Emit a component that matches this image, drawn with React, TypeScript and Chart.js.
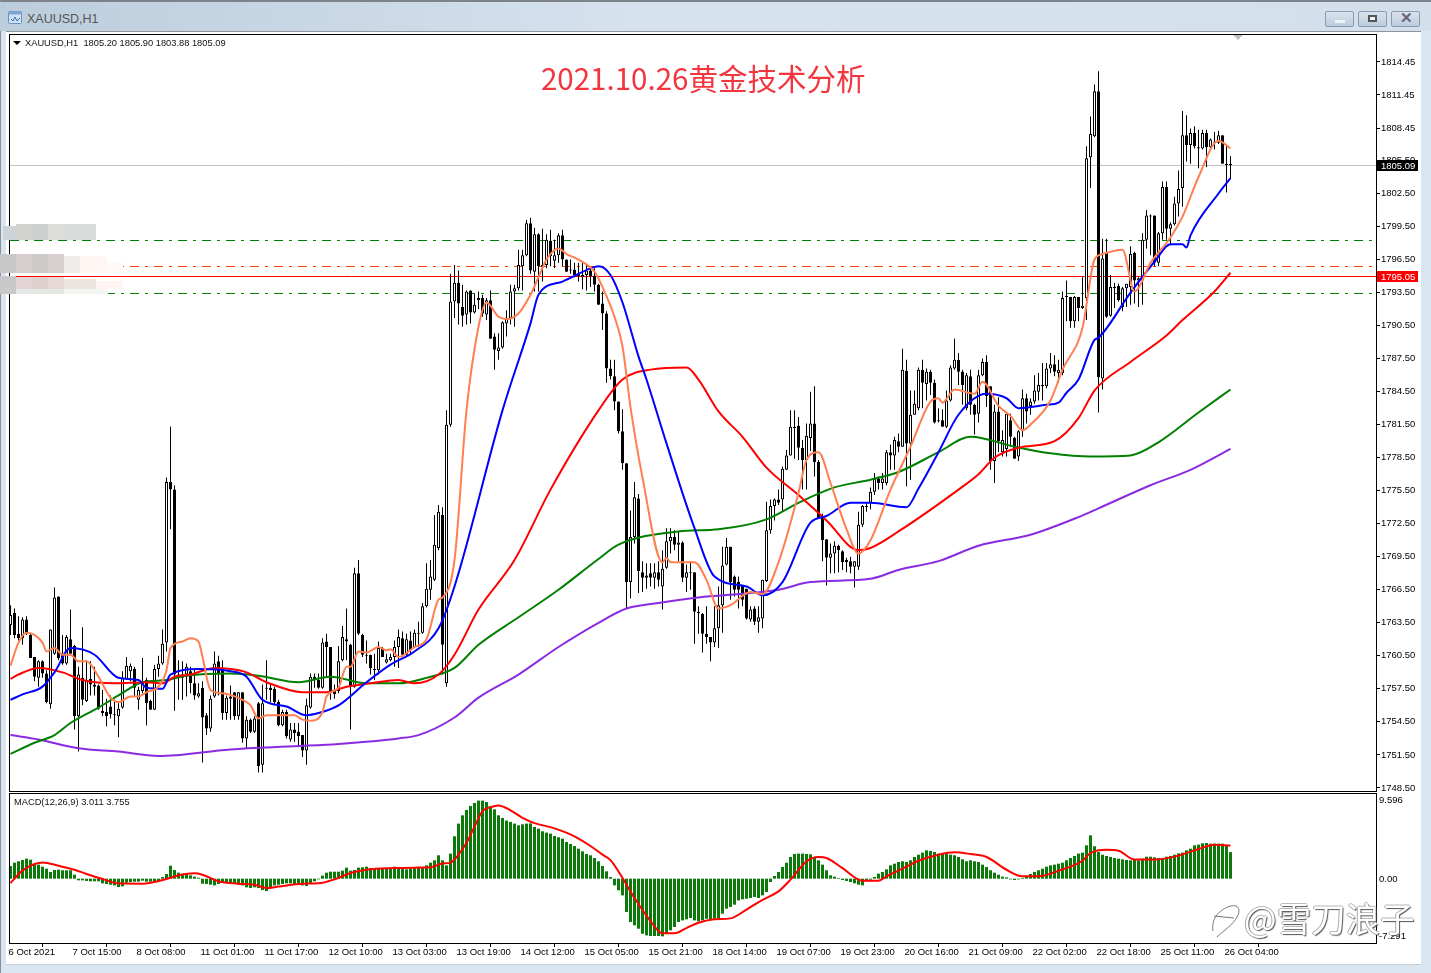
import React, { useEffect, useRef } from 'react';
import { Chart, registerables } from 'chart.js';

Chart.register(...registerables);

// [open, high, low, close] per hourly bar
const candlesOct6to8 = [
  [1763.3,1765.1,1762.4,1764.2],[1764.4,1764.8,1762.1,1762.4],[1762.5,1764.1,1761.9,1762.1],[1762.1,1764.0,1761.5,1763.8],[1763.8,1764.1,1762.4,1762.5],
  [1762.4,1762.5,1760.3,1760.3],[1760.4,1760.4,1758.2,1758.6],[1758.5,1760.1,1757.7,1760.0],[1760.0,1760.1,1758.5,1758.9],[1758.9,1759.2,1756.2,1756.3],
  [1756.1,1762.9,1755.7,1762.9],[1760.7,1766.7,1760.6,1765.8],[1765.9,1765.9,1760.1,1760.3],[1760.6,1762.4,1759.7,1759.8],[1759.8,1762.4,1759.7,1762.2],
  [1762.0,1764.7,1760.6,1760.7],[1761.4,1761.5,1753.8,1755.0],[1755.0,1759.5,1751.8,1758.8],[1758.5,1763.1,1756.0,1756.5],[1756.4,1760.1,1756.3,1758.3],
  [1758.4,1760.0,1756.9,1757.9],[1757.9,1759.5,1756.9,1757.7],[1757.8,1757.9,1755.6,1755.7],[1755.5,1757.4,1755.0,1755.3],[1755.4,1756.6,1754.1,1755.0],
  [1755.9,1756.9,1754.8,1755.2],[1755.2,1756.5,1754.2,1755.1],[1755.0,1756.2,1753.1,1755.7],[1755.8,1759.1,1755.7,1758.5],[1758.4,1760.4,1758.3,1759.6],
  [1759.1,1759.8,1758.2,1759.6],[1759.3,1759.5,1756.8,1757.6],[1756.5,1757.7,1755.6,1757.4],[1757.3,1760.3,1757.1,1758.2],[1758.3,1758.5,1754.2,1756.2],
  [1756.4,1756.5,1755.6,1755.6],[1755.6,1759.7,1755.6,1759.3],[1759.3,1760.5,1758.6,1759.8],[1759.8,1762.9,1759.7,1761.6],[1761.7,1776.7,1760.9,1776.3],
  [1776.3,1781.3,1772.0,1775.6],[1775.6,1776.0,1755.5,1758.8],[1758.8,1760.1,1756.5,1758.6],[1758.8,1760.0,1756.5,1758.5],[1758.8,1759.8,1756.8,1759.5],
  [1759.1,1759.5,1757.1,1758.0],[1758.0,1759.4,1756.5,1756.9],[1756.8,1758.0,1756.7,1757.1],[1757.6,1758.2,1750.8,1754.9],[1755.1,1755.3,1753.3,1753.9],
  [1753.9,1756.9,1753.6,1756.6],[1756.8,1760.9,1756.7,1759.8],[1760.0,1760.5,1756.9,1758.8],[1759.4,1760.1,1754.7,1755.3],[1755.3,1756.9,1754.7,1756.7],
];
const candlesOct11to13 = [
  [1756.8,1757.8,1754.7,1756.6],[1757.2,1757.2,1754.7,1755.0],[1755.0,1757.2,1754.7,1757.2],[1757.2,1757.2,1752.6,1753.0],[1753.0,1755.0,1752.1,1754.7],
  [1754.7,1754.8,1753.5,1753.6],[1753.6,1755.0,1753.5,1754.8],[1756.2,1756.3,1749.9,1750.5],[1750.6,1757.9,1749.9,1756.2],[1757.6,1760.1,1756.5,1757.5],
  [1757.6,1758.0,1756.3,1757.4],[1757.5,1757.7,1756.0,1756.3],[1756.3,1756.5,1754.1,1754.2],[1754.2,1755.6,1754.1,1755.4],[1755.4,1755.6,1753.0,1753.2],
  [1752.9,1754.4,1752.7,1753.8],[1753.8,1754.4,1752.7,1753.5],[1753.6,1754.4,1752.2,1753.2],[1753.3,1753.3,1751.3,1751.9],[1751.9,1756.6,1750.6,1756.0],
  [1755.8,1758.9,1755.7,1758.6],[1758.6,1758.9,1757.6,1758.4],[1758.3,1758.9,1757.5,1757.6],[1757.6,1762.1,1757.5,1761.7],[1761.8,1762.5,1758.6,1761.3],
  [1761.3,1761.3,1756.5,1757.3],[1757.3,1757.9,1756.6,1757.0],[1757.3,1761.4,1757.1,1760.0],[1760.1,1763.2,1760.0,1762.2],[1762.0,1764.8,1760.1,1761.8],
  [1761.5,1761.6,1753.8,1757.7],[1757.7,1768.5,1757.6,1768.0],[1768.0,1769.2,1762.4,1762.5],[1762.4,1762.5,1760.4,1760.6],[1760.6,1761.9,1759.8,1760.5],
  [1760.6,1760.6,1758.8,1759.4],[1759.3,1760.7,1758.3,1759.2],[1759.2,1761.8,1758.8,1761.2],[1761.2,1761.3,1760.4,1760.4],[1759.9,1760.7,1759.8,1760.2],
  [1760.1,1760.7,1760.0,1760.4],[1760.4,1761.9,1759.5,1761.3],[1761.3,1762.9,1759.4,1762.2],[1762.1,1762.7,1760.4,1760.6],[1760.6,1762.5,1760.4,1762.0],
  [1761.9,1762.7,1760.6,1761.0],[1761.3,1762.9,1761.2,1762.6],[1762.6,1763.6,1761.3,1762.5],[1762.6,1765.3,1762.5,1765.0],[1765.0,1768.9,1764.9,1766.6],
  [1766.5,1769.2,1765.6,1767.7],[1767.4,1773.3,1767.3,1770.6],[1770.3,1774.2,1770.1,1773.6],[1773.3,1774.0,1758.8,1761.5],[1758.0,1782.8,1757.7,1781.5],
  [1781.5,1795.2,1781.3,1792.7],
];
const candlesOct13to15 = [
  [1792.7,1796.0,1791.2,1794.4],[1794.4,1795.5,1790.6,1792.5],[1792.2,1794.2,1790.4,1791.4],[1791.5,1793.7,1790.6,1793.6],[1793.7,1793.7,1790.7,1791.7],
  [1791.7,1793.4,1791.6,1792.4],[1792.8,1793.6,1792.0,1793.0],[1793.0,1793.3,1791.3,1791.6],[1791.5,1793.0,1791.0,1792.8],[1792.8,1793.7,1789.3,1789.3],
  [1789.5,1789.8,1786.5,1788.3],[1788.2,1789.8,1787.4,1788.5],[1788.5,1790.9,1788.4,1790.8],[1790.7,1791.9,1789.5,1791.2],[1791.2,1794.2,1790.6,1793.6],
  [1793.6,1794.2,1790.4,1793.9],[1793.9,1797.4,1793.7,1796.0],[1795.9,1797.4,1793.7,1796.9],[1796.9,1800.1,1796.8,1799.8],[1799.8,1800.3,1795.2,1795.5],
  [1795.4,1799.4,1793.6,1798.8],[1798.8,1798.9,1793.6,1795.9],[1796.0,1799.3,1794.5,1795.8],[1796.0,1798.8,1795.7,1798.3],[1798.2,1799.2,1795.9,1796.8],
  [1796.4,1798.3,1795.7,1796.9],[1796.9,1798.9,1796.2,1798.7],[1798.7,1799.2,1795.9,1796.5],[1796.5,1796.5,1795.4,1795.4],[1795.6,1796.5,1795.2,1795.5],
  [1795.6,1796.2,1794.9,1795.1],[1795.0,1796.2,1794.5,1795.2],[1794.9,1796.3,1793.8,1795.1],[1795.1,1796.0,1793.7,1795.5],[1795.5,1795.9,1794.0,1795.0],
  [1795.0,1795.7,1793.6,1794.2],[1794.2,1794.3,1792.4,1792.4],[1792.5,1793.6,1790.1,1791.6],[1791.6,1791.8,1785.3,1786.6],[1786.6,1787.4,1785.6,1785.9],
  [1785.9,1787.4,1782.8,1783.6],[1783.6,1783.6,1780.7,1780.9],[1780.9,1782.9,1777.4,1778.0],[1778.0,1778.0,1764.8,1767.2],[1767.2,1773.7,1765.7,1771.3],
  [1771.3,1776.3,1770.7,1774.9],[1774.8,1775.2,1766.2,1768.2],[1768.1,1769.1,1766.3,1767.6],[1767.6,1768.9,1766.6,1767.8],[1768.0,1768.9,1766.8,1767.6],
  [1767.6,1768.9,1766.6,1768.1],[1768.1,1769.1,1766.8,1767.4],[1766.8,1770.1,1764.7,1768.4],[1768.5,1772.1,1768.4,1770.9],[1770.9,1772.1,1769.8,1771.3],
  [1771.3,1771.9,1770.1,1770.6],[1770.6,1771.8,1769.1,1770.8],[1770.8,1770.9,1767.2,1767.6],[1767.6,1768.8,1766.3,1768.1],[1768.1,1769.1,1766.5,1768.0],
];
const candlesOct18to20 = [
  [1768.1,1768.1,1761.6,1764.5],[1764.5,1765.0,1762.5,1764.4],[1764.3,1764.4,1760.8,1762.5],[1762.5,1765.0,1761.6,1762.2],[1762.2,1762.2,1760.0,1761.7],
  [1761.7,1765.0,1761.3,1763.0],[1763.0,1766.8,1761.2,1765.1],[1765.1,1770.4,1762.6,1768.7],[1768.8,1771.2,1768.7,1770.4],[1770.4,1770.4,1765.6,1767.2],
  [1767.7,1767.8,1765.9,1766.5],[1767.2,1767.7,1764.8,1766.5],[1766.9,1766.9,1765.0,1765.6],[1766.6,1766.6,1763.8,1763.9],[1763.8,1765.0,1763.6,1764.7],
  [1764.8,1765.0,1763.3,1763.6],[1763.6,1765.0,1762.6,1764.0],[1763.9,1767.4,1763.0,1767.4],[1767.3,1774.5,1767.2,1771.9],[1771.9,1774.7,1771.6,1774.1],
  [1774.1,1774.8,1772.8,1774.7],[1774.7,1775.6,1774.2,1774.4],[1774.7,1777.7,1773.6,1777.5],[1777.4,1779.2,1777.4,1778.7],[1778.7,1782.8,1778.7,1781.3],
  [1781.2,1782.8,1778.4,1781.3],[1781.4,1782.2,1778.3,1779.4],[1779.4,1780.1,1775.6,1778.3],[1778.3,1781.6,1775.6,1780.5],[1780.3,1784.5,1779.1,1781.6],
  [1781.6,1785.0,1776.8,1778.1],[1778.1,1778.3,1773.0,1773.0],[1773.1,1773.4,1769.1,1771.0],[1771.1,1771.1,1766.9,1769.4],[1769.4,1770.7,1768.0,1769.8],
  [1769.8,1770.9,1768.0,1770.5],[1770.5,1770.6,1768.1,1770.1],[1770.0,1770.1,1768.3,1769.0],[1769.2,1769.4,1768.1,1769.0],[1769.1,1769.5,1768.0,1768.6],
  [1768.6,1769.1,1766.7,1769.1],[1768.6,1773.6,1768.3,1772.4],[1772.4,1774.2,1772.2,1774.1],[1774.1,1774.4,1773.6,1774.0],[1774.4,1775.8,1773.8,1775.4],
  [1775.4,1777.1,1775.1,1776.6],[1776.6,1776.8,1775.6,1776.2],[1776.2,1777.1,1775.6,1776.6],[1776.2,1779.2,1776.0,1779.0],[1779.0,1779.7,1777.4,1778.7],
  [1778.7,1780.4,1777.4,1780.1],[1780.0,1780.7,1779.0,1779.5],[1779.5,1788.4,1779.5,1786.5],[1786.4,1787.4,1775.9,1779.8],[1779.8,1784.6,1776.5,1782.4],
  [1782.4,1784.6,1782.4,1783.4],[1783.0,1786.7,1782.8,1786.5],[1786.5,1787.4,1783.0,1785.3],[1785.2,1786.6,1783.7,1786.3],[1786.3,1786.5,1784.2,1785.3],
];
const candlesOct21to22 = [
  [1785.3,1785.6,1781.6,1781.7],[1781.9,1783.0,1781.7,1781.8],[1781.9,1782.9,1781.3,1781.3],[1781.3,1784.6,1781.2,1783.7],[1783.7,1786.9,1783.6,1786.7],
  [1786.6,1789.3,1786.5,1787.4],[1787.4,1788.0,1785.1,1786.3],[1786.3,1786.5,1783.3,1785.1],[1783.0,1786.2,1782.8,1786.0],[1785.9,1786.5,1782.4,1783.3],
  [1783.3,1783.4,1780.6,1782.4],[1782.5,1786.5,1781.7,1786.0],[1786.0,1787.5,1785.9,1787.2],[1787.2,1787.8,1783.1,1784.1],[1785.0,1785.0,1777.4,1778.2],
  [1778.2,1783.3,1776.2,1782.7],[1782.7,1784.0,1779.0,1780.0],[1779.0,1781.0,1778.6,1780.1],[1779.3,1782.5,1778.6,1782.5],[1781.9,1782.5,1779.5,1780.4],
  [1780.3,1780.4,1778.4,1778.4],[1778.6,1781.0,1778.2,1780.9],[1780.9,1784.7,1780.4,1783.9],[1783.9,1784.3,1781.6,1782.7],[1783.2,1783.9,1782.4,1783.6],
  [1783.6,1786.0,1783.4,1784.6],[1784.5,1786.2,1783.7,1785.1],[1785.1,1787.1,1783.7,1785.0],[1785.0,1787.1,1784.8,1786.6],[1786.6,1788.0,1786.2,1787.0],
  [1787.0,1787.8,1785.9,1786.3],[1786.2,1787.4,1785.3,1786.5],[1786.2,1793.6,1786.0,1793.0],[1793.2,1794.6,1790.9,1793.1],[1793.1,1793.1,1790.3,1790.9],
  [1790.9,1793.2,1790.3,1793.1],[1793.1,1793.1,1790.9,1792.1],[1792.1,1794.9,1792.0,1792.3],[1793.0,1806.8,1791.0,1805.7],[1805.8,1809.5,1803.0,1807.9],
  [1807.7,1812.4,1807.6,1811.8],[1811.8,1813.6,1782.6,1785.8],[1785.7,1798.4,1784.7,1796.6],[1797.1,1798.4,1791.2,1791.3],[1791.4,1795.1,1791.3,1794.0],
  [1794.0,1794.4,1792.1,1793.9],[1794.1,1794.3,1792.7,1792.8],[1792.2,1794.0,1791.8,1793.9],[1793.9,1794.3,1792.2,1794.3],[1794.0,1797.7,1792.4,1797.0],
];
const candlesOct25to26 = [
  [1797.1,1797.2,1792.5,1794.6],[1794.6,1794.9,1792.2,1794.8],[1794.6,1798.9,1792.4,1798.3],[1798.3,1801.0,1797.5,1800.5],[1800.5,1800.6,1796.9,1800.4],
  [1800.5,1800.5,1795.9,1796.2],[1796.2,1799.0,1795.9,1798.9],[1798.9,1803.6,1798.3,1803.1],[1803.1,1803.6,1798.3,1799.3],[1799.3,1799.9,1797.8,1799.7],
  [1799.7,1802.2,1799.6,1801.6],[1801.6,1804.6,1800.4,1802.9],[1803.0,1810.0,1801.3,1807.8],[1807.8,1809.6,1805.4,1806.9],[1806.9,1808.4,1805.2,1808.0],
  [1808.0,1808.6,1806.6,1806.8],[1806.7,1808.3,1804.8,1806.6],[1806.6,1808.3,1806.5,1808.0],[1808.0,1808.3,1804.9,1806.7],[1806.7,1807.5,1806.5,1807.4],
  [1807.2,1808.1,1806.5,1807.1],[1807.1,1808.2,1807.0,1807.8],[1807.8,1807.8,1805.2,1805.2],[1805.2,1806.9,1802.6,1805.1],[1805.2,1805.9,1803.88,1805.09],
];
const candles = [...candlesOct6to8, ...candlesOct11to13, ...candlesOct13to15, ...candlesOct18to20, ...candlesOct21to22, ...candlesOct25to26];

// moving averages, read at the bars where they bend
const orangeBars = [0,2,4,8,9,11,13,15,17,19,22,25,27,30,32,34,37,39,40,43,45,47,48,50,53,58,60,62,64,71,73,75,78,79,82,84,85,87,89,92,94,95,97,101,104,107,108,111,114,117,119,122,124,127,130,132,134,137,139,142,146,148,151,153,155,158,163,164,165,171,174,177,180,185,188,192,197,199,202,205,209,212,215,220,225,230,232,233,236,241,243,247,250,253,255,260,263,268,271,273,278,281,285,290,293,297,302,305];
const orangeValues = [1759.6,1761.7,1762.6,1761.7,1760.9,1761.2,1760.6,1760.6,1760.0,1760.0,1758.6,1756.7,1756.3,1756.8,1756.8,1757.2,1757.7,1759.2,1761.2,1761.8,1762.1,1761.8,1760.4,1757.4,1757.1,1756.5,1756.0,1754.8,1755.1,1755.1,1754.7,1754.6,1755.4,1756.8,1757.6,1759.5,1759.5,1760.9,1760.8,1761.3,1761.0,1761.1,1760.4,1761.3,1762.0,1765.6,1765.8,1769.2,1782.8,1790.4,1792.6,1791.3,1791.1,1791.6,1793.3,1794.9,1796.5,1797.5,1797.0,1796.5,1795.4,1794.0,1791.3,1788.6,1783.1,1776.7,1769.0,1769.4,1769.0,1769.0,1767.4,1764.8,1765.1,1766.3,1766.1,1769.0,1775.3,1778.3,1779.0,1776.2,1772.0,1769.8,1771.0,1775.6,1779.5,1783.6,1783.9,1783.5,1784.7,1784.3,1785.4,1783.2,1782.3,1781.0,1781.5,1783.7,1786.5,1790.3,1796.5,1797.0,1797.4,1793.6,1796.2,1798.5,1800.4,1804.0,1807.3,1806.6];
const blueBars = [0,3,8,11,15,21,27,32,34,38,40,47,55,59,63,69,74,77,82,89,95,101,107,111,123,130,132,138,145,147,150,153,157,159,164,171,176,184,188,193,200,204,210,215,224,227,232,237,244,249,252,259,262,264,267,271,272,280,286,290,293,294,295,302,305];
const blueValues = [1756.5,1757.0,1757.7,1759.0,1761.2,1760.6,1758.5,1758.3,1757.6,1757.5,1758.8,1759.3,1759.1,1758.6,1756.5,1755.9,1755.1,1755.3,1756.0,1758.1,1759.7,1760.9,1763.0,1766.8,1782.8,1790.7,1793.3,1794.5,1795.7,1795.9,1795.1,1792.6,1787.7,1785.6,1779.8,1772.1,1767.7,1766.8,1766.0,1767.2,1772.6,1773.2,1774.4,1774.4,1774.0,1775.7,1779.0,1782.4,1784.3,1783.9,1783.0,1783.3,1783.5,1784.4,1785.6,1789.2,1789.4,1793.5,1796.3,1797.9,1797.9,1797.6,1798.7,1802.5,1803.9];
const redBars = [0,2,7,13,18,26,34,38,41,45,51,55,59,64,73,79,84,90,97,101,107,111,117,126,135,147,153,160,169,172,177,183,189,197,204,212,215,222,237,242,246,252,261,267,271,280,289,293,301,305];
const redValues = [1758.4,1758.8,1759.4,1759.0,1758.3,1758.0,1758.1,1758.0,1758.6,1758.8,1759.4,1759.3,1759.0,1758.1,1757.2,1757.2,1757.7,1758.0,1758.3,1758.0,1758.8,1760.6,1764.7,1769.2,1775.6,1782.8,1785.6,1786.5,1786.7,1785.6,1782.7,1780.4,1777.6,1775.1,1772.8,1770.1,1770.3,1771.8,1775.6,1777.0,1778.5,1779.4,1780.0,1782.1,1784.6,1787.2,1789.6,1791.0,1793.6,1795.3];
const greenBars = [0,6,11,15,22,27,33,39,44,55,62,72,80,89,97,104,111,117,127,137,147,152,167,177,189,197,206,215,222,232,240,251,260,270,280,287,297,305];
const greenValues = [1751.6,1752.6,1753.3,1754.4,1755.8,1756.9,1758.1,1758.3,1758.7,1758.9,1758.7,1758.1,1758.6,1758.0,1758.0,1758.5,1759.4,1761.5,1764.0,1766.5,1769.3,1770.6,1771.8,1772.0,1772.9,1774.4,1775.8,1776.5,1777.2,1779.0,1780.4,1779.5,1778.9,1778.6,1778.7,1779.9,1782.6,1784.7];
const purpleBars = [0,7,17,27,37,55,72,82,97,102,111,117,127,137,147,154,162,172,185,192,200,215,222,232,242,255,267,272,285,295,305];
const purpleValues = [1753.3,1752.9,1752.1,1751.8,1751.4,1752.0,1752.3,1752.5,1753.0,1753.3,1754.9,1756.7,1758.8,1761.3,1763.5,1764.8,1765.3,1765.8,1766.2,1766.5,1767.2,1767.5,1768.3,1769.1,1770.5,1771.5,1773.1,1773.9,1776.0,1777.4,1779.3];

// horizontal levels
const bidLevel = 1805.05;
const bidLabel = '1805.09';
const redLevel = 1794.96;
const redLabel = '1795.05';
const upperGreenLevel = 1798.23;
const orangeLevel = 1795.87;
const lowerGreenLevel = 1793.42;

const priceTicks = [1814.45,1811.45,1808.45,1805.5,1802.5,1799.5,1796.5,1793.5,1790.5,1787.5,1784.5,1781.5,1778.5,1775.5,1772.5,1769.5,1766.5,1763.5,1760.5,1757.5,1754.5,1751.5,1748.5];
const timeLabels = ['6 Oct 2021','7 Oct 15:00','8 Oct 08:00','11 Oct 01:00','11 Oct 17:00','12 Oct 10:00','13 Oct 03:00','13 Oct 19:00','14 Oct 12:00','15 Oct 05:00','15 Oct 21:00','18 Oct 14:00','19 Oct 07:00','19 Oct 23:00','20 Oct 16:00','21 Oct 09:00','22 Oct 02:00','22 Oct 18:00','25 Oct 11:00','26 Oct 04:00'];

const macdHistogram = [
  1.44,1.81,1.97,2.12,2.27,2.15,1.66,1.59,1.36,1.13,
  0.76,0.98,1.02,0.95,0.95,0.95,0.45,-0.19,-0.19,-0.26,
  -0.3,-0.3,-0.3,-0.53,-0.6,-0.68,-0.76,-0.95,-0.87,-0.45,
  -0.38,-0.34,-0.34,-0.23,-0.34,-0.34,-0.34,-0.26,0.19,0.53,
  1.47,0.98,0.68,0.57,0.53,0.38,0.23,0.11,-0.57,-0.6,
  -0.68,-0.76,-0.6,-0.45,-0.38,-0.45,-0.57,-0.68,-0.76,-0.98,
  -1.06,-0.98,-1.06,-1.29,-1.4,-1.02,-0.76,-0.68,-0.6,-0.53,
  -0.53,-0.6,-0.53,-0.76,-0.83,-0.53,-0.3,-0.08,0.34,0.68,
  0.79,0.79,0.79,0.91,1.25,0.91,0.98,1.25,1.29,1.36,
  1.21,1.13,1.21,1.13,1.13,1.13,1.36,1.29,1.13,1.06,
  1.13,1.21,1.29,1.29,1.51,1.81,2.08,2.65,2.08,1.51,
  2.84,4.8,6.24,7.18,7.79,8.24,8.58,8.85,8.85,8.69,
  8.24,7.86,7.18,6.88,6.58,6.43,6.24,6.05,6.16,6.24,
  6.27,5.86,5.67,5.37,5.22,5.1,4.84,4.69,4.54,4.16,
  3.93,3.7,3.4,3.1,2.8,2.65,2.34,1.97,1.44,0.83,
  0.19,-0.76,-1.32,-1.89,-3.78,-4.91,-5.29,-5.67,-6.24,-6.43,
  -6.5,-6.5,-6.5,-6.54,-6.24,-5.86,-5.48,-4.91,-4.73,-4.61,
  -4.46,-4.73,-4.84,-4.73,-4.54,-4.61,-4.54,-4.46,-3.97,-3.4,
  -3.21,-2.95,-2.46,-2.34,-2.27,-2.19,-2.08,-2.19,-1.89,-1.51,
  -0.38,0.3,0.76,1.32,1.81,2.46,2.8,2.84,2.84,2.8,
  2.76,2.46,2.08,1.59,0.95,0.38,0.23,0.08,-0.15,-0.26,
  -0.38,-0.53,-0.68,-0.76,-0.3,-0.11,0.19,0.57,0.76,1.06,
  1.51,1.7,1.89,1.97,1.89,2.08,2.46,2.72,2.95,3.21,
  3.14,3.02,2.84,2.84,2.8,2.72,2.65,2.46,2.19,1.97,
  2.08,1.97,1.89,1.59,1.32,0.95,0.68,0.45,0.23,0.15,
  -0.08,-0.15,-0.08,0.08,0.3,0.53,0.76,0.95,1.13,1.36,
  1.51,1.59,1.7,1.81,2.08,2.34,2.57,2.84,2.95,3.78,
  4.91,3.67,3.02,2.72,2.57,2.46,2.34,2.27,2.19,2.12,
  2.08,2.12,2.08,2.27,2.49,2.49,2.42,2.34,2.34,2.49,
  2.57,2.72,2.87,2.95,3.21,3.4,3.78,3.86,4.01,4.04,
  3.97,3.97,3.97,3.97,3.78,3.01,
];
const signalBars = [0,3,6,8,12,16,19,23,27,33,39,42,46,48,52,57,61,64,67,73,77,81,85,89,96,101,105,108,110,112,114,116,118,120,122,125,128,131,136,141,145,148,150,153,156,160,163,166,169,172,176,180,184,188,192,195,199,202,204,208,213,217,219,223,227,232,236,240,244,249,253,257,262,268,270,274,277,281,286,292,297,301,305];
const signalValues = [-0.49,0.91,1.66,1.84,1.47,1.01,0.53,-0.04,-0.53,-0.57,-0.04,0.38,0.61,0.45,-0.3,-0.57,-0.68,-1.06,-0.9,-0.57,-0.53,-0.08,0.65,1.01,1.2,1.25,1.29,1.71,1.82,2.72,4.06,5.9,7.65,8.1,8.3,7.75,6.9,6.3,5.7,4.8,3.7,2.72,2.1,0.08,-2.2,-4.8,-6.2,-6.2,-5.6,-5.0,-4.6,-4.5,-3.5,-2.4,-1.44,-0.11,1.96,2.46,2.34,1.2,-0.23,-0.23,0.27,1.13,2.03,2.72,2.99,2.79,2.46,1.01,0.27,0.27,0.9,2.03,2.91,3.29,3.17,2.16,2.16,2.61,3.37,3.85,3.755];
const macdScaleLabels = [
  { value: 9.596, text: '9.596', shift: 6 },
  { value: 0, text: '0.00', shift: 1 },
  { value: -7.291, text: '-7.291', shift: -7 },
];

const AXIS_FONT = { family: '"Liberation Sans", sans-serif', size: 9.5 };
const X_MIN = -0.125;
const X_MAX = X_MIN + 1366 / 4;

const pairs = (xs: number[], ys: number[]) => xs.map((x, i) => ({ x, y: ys[i] }));

const maLine = (xs: number[], ys: number[], color: string) => ({
  type: 'line',
  data: pairs(xs, ys),
  borderColor: color,
  borderWidth: 2,
  pointRadius: 0,
  cubicInterpolationMode: 'monotone',
  order: 1,
});

const levelLine = (y: number, color: string, dash: number[]) => ({
  type: 'line',
  data: pairs([X_MIN, X_MAX], [y, y]),
  borderColor: color,
  borderWidth: 1,
  borderDash: dash,
  pointRadius: 0,
  order: 4,
});

const priceBoxes = {
  id: 'priceBoxes',
  afterDraw(chart: any) {
    const { ctx, scales } = chart;
    const box = (value: number, text: string, fill: string) => {
      const y = Math.floor(scales.y.getPixelForValue(value));
      ctx.save();
      ctx.fillStyle = fill;
      ctx.fillRect(1377, y - 5, 41, 11);
      ctx.fillStyle = '#fff';
      ctx.font = '9.5px "Liberation Sans", sans-serif';
      ctx.textBaseline = 'middle';
      ctx.fillText(text, 1381, y + 1);
      ctx.restore();
    };
    box(bidLevel, bidLabel, '#000');
    box(redLevel, redLabel, '#f00');
  },
};

const PriceChart: React.FC = () => {
  const ref = useRef<HTMLCanvasElement>(null);

  useEffect(() => {
    const bars = candles.map((c, i) => ({ i, open: c[0], high: c[1], low: c[2], close: c[3] }));
    const chart = new Chart(ref.current as HTMLCanvasElement, {
      type: 'bar',
      data: {
        datasets: [
          maLine(orangeBars, orangeValues, '#ff7f50'),
          maLine(blueBars, blueValues, '#0000ff'),
          maLine(redBars, redValues, '#ff0000'),
          maLine(greenBars, greenValues, '#008000'),
          maLine(purpleBars, purpleValues, '#8a2be2'),
          {
            data: bars.map((b) => ({ x: b.i, y: [b.open, b.close] })),
            backgroundColor: bars.map((b) => (b.close >= b.open ? '#fff' : '#000')),
            borderColor: '#000',
            borderWidth: 1,
            borderSkipped: false,
            inflateAmount: 0,
            barThickness: 3,
            grouped: false,
            order: 2,
          },
          {
            data: bars.map((b) => ({ x: b.i, y: [b.low, b.high] })),
            backgroundColor: '#000',
            borderWidth: 0,
            inflateAmount: 0,
            barThickness: 1,
            grouped: false,
            order: 3,
          },
          levelLine(bidLevel, '#c0c0c0', []),
          levelLine(redLevel, '#ff0000', []),
          levelLine(upperGreenLevel, '#008000', [9, 6, 3, 6]),
          levelLine(orangeLevel, '#ff4500', [9, 6, 3, 6]),
          levelLine(lowerGreenLevel, '#008000', [9, 6, 3, 6]),
        ] as any,
      },
      options: {
        animation: false,
        responsive: false,
        layout: { padding: { left: 10, top: 35, bottom: 1, right: 0 } },
        plugins: { legend: { display: false }, tooltip: { enabled: false } },
        scales: {
          x: { type: 'linear', display: false, offset: false, min: X_MIN, max: X_MAX },
          y: {
            position: 'right',
            min: 1748.22,
            max: 1816.9,
            border: { display: false },
            grid: { drawOnChartArea: false, tickLength: 4, tickColor: '#000' },
            afterBuildTicks: (s: any) => { s.ticks = priceTicks.map((value) => ({ value })); },
            afterFit: (s: any) => { s.width = 55; s.paddingTop = 0; s.paddingBottom = 0; },
            ticks: {
              autoSkip: false,
              padding: 1,
              color: '#000',
              font: AXIS_FONT,
              callback: (v: any) => Number(v).toFixed(2),
            },
          },
        },
      } as any,
      plugins: [priceBoxes],
    });
    return () => chart.destroy();
  }, []);

  return <canvas ref={ref} width={1431} height={792} style={{ position: 'absolute', left: 0, top: 0 }} />;
};

const macdLabels = {
  id: 'macdLabels',
  afterDraw(chart: any) {
    const { ctx, scales } = chart;
    ctx.save();
    ctx.fillStyle = '#000';
    ctx.font = '9.5px "Liberation Sans", sans-serif';
    ctx.textBaseline = 'middle';
    macdScaleLabels.forEach((l) => {
      ctx.fillText(l.text, 1379, scales.y.getPixelForValue(l.value) + l.shift);
    });
    ctx.restore();
  },
};

const MacdChart: React.FC = () => {
  const ref = useRef<HTMLCanvasElement>(null);

  useEffect(() => {
    const chart = new Chart(ref.current as HTMLCanvasElement, {
      type: 'bar',
      data: {
        datasets: [
          {
            type: 'line',
            data: pairs(signalBars, signalValues),
            borderColor: '#ff0000',
            borderWidth: 2,
            pointRadius: 0,
            cubicInterpolationMode: 'monotone',
            order: 1,
          },
          {
            data: macdHistogram.map((y, x) => ({ x, y })),
            backgroundColor: '#0b7a0b',
            borderWidth: 0,
            inflateAmount: 0,
            barThickness: 3,
            grouped: false,
            order: 2,
          },
        ] as any,
      },
      options: {
        animation: false,
        responsive: false,
        layout: { padding: { left: 10, top: 1, bottom: 0, right: 0 } },
        plugins: { legend: { display: false }, tooltip: { enabled: false } },
        scales: {
          x: {
            type: 'linear',
            offset: false,
            min: X_MIN,
            max: X_MAX,
            border: { display: false },
            grid: { drawOnChartArea: false, tickLength: 4, tickColor: '#000' },
            afterBuildTicks: (s: any) => { s.ticks = timeLabels.map((_, i) => ({ value: i * 16 })); },
            afterFit: (s: any) => { s.height = 22; s.paddingLeft = 0; s.paddingRight = 0; },
            ticks: {
              autoSkip: false,
              maxRotation: 0,
              align: 'start',
              padding: 0,
              labelOffset: -2,
              color: '#000',
              font: AXIS_FONT,
              callback: (v: any) => timeLabels[Number(v) / 16],
            },
          },
          y: {
            position: 'right',
            min: -7.291,
            max: 9.596,
            border: { display: false },
            grid: { display: false },
            afterFit: (s: any) => { s.width = 55; s.paddingTop = 0; s.paddingBottom = 0; },
            ticks: { display: false },
          },
        },
      } as any,
      plugins: [macdLabels],
    });
    return () => chart.destroy();
  }, []);

  return <canvas ref={ref} width={1431} height={172} style={{ position: 'absolute', left: 0, top: 793 }} />;
};

const abs = (left: number, top: number, width: number, height: number, background: string): React.CSSProperties => ({
  position: 'absolute', left, top, width, height, background,
});

// the smudged-out notes at the left of the chart
const smudges: [number, number, number, number, string][] = [
  [3, 226, 13, 14, '#cdd3d8'], [16, 224, 16, 16, '#d3d3d0'], [32, 224, 16, 16, '#cdd0ce'], [48, 224, 16, 16, '#dcdcd8'], [64, 224, 32, 16, '#d9dbda'],
  [0, 254, 16, 19, '#c8c8c8'], [16, 254, 16, 19, '#d6cfcd'], [32, 254, 16, 19, '#cecbc8'], [48, 254, 16, 19, '#d8d0ce'], [64, 256, 16, 17, '#eeecea'], [80, 256, 27, 17, '#fff6f3'], [107, 262, 16, 11, '#fffaf8'],
  [0, 276, 16, 18, '#c8c8c8'], [16, 277, 16, 12, '#e3d5d5'], [32, 277, 16, 12, '#ddd0cf'], [48, 277, 16, 12, '#e6d9d7'], [64, 279, 32, 10, '#ebe3e0'], [96, 281, 27, 8, '#fff4f1'],
  [16, 289, 48, 5, '#e3e8e4'], [64, 289, 44, 5, '#f2f5f2'],
];

const labelStyle: React.CSSProperties = {
  position: 'absolute',
  font: '9.3px "Liberation Sans", sans-serif',
  color: '#111',
  whiteSpace: 'pre',
  lineHeight: '12px',
};

const WindowButton: React.FC<{ left: number; mark: React.ReactNode }> = ({ left, mark }) => (
  <div style={{
    position: 'absolute', left, top: 11, width: 29, height: 16, boxSizing: 'border-box',
    border: '1px solid #8a9bb0', borderRadius: 2,
    background: 'linear-gradient(#d8e3ee, #bccbdc)',
  }}>{mark}</div>
);

export default function App() {
  return (
    <div style={{ position: 'absolute', left: 0, top: 0, width: 1431, height: 973, overflow: 'hidden', background: '#d9e6f2' }}>
      <div style={abs(0, 0, 1431, 2, '#7d838a')} />
      <div style={abs(0, 0, 1, 973, '#8b9096')} />
      <div style={abs(0, 2, 1431, 29, 'linear-gradient(90deg, #bccddd, #d6e2ee 45%, #d3e0ec)')} />
      <div style={abs(6, 31, 1415, 933, '#fff')} />
      <div style={abs(6, 31, 1415, 1, '#8f959b')} />
      <div style={abs(6, 964, 1415, 1, '#c9cdd1')} />
      <svg width="16" height="15" style={{ position: 'absolute', left: 8, top: 11 }}>
        <rect x="0.5" y="0.5" width="13" height="12" rx="1" fill="#cfe2f5" stroke="#6f93b8" />
        <rect x="0.5" y="0.5" width="13" height="3" fill="#7ea7d0" />
        <polyline points="3,8 5,10 7,6 9,10 12,7" fill="none" stroke="#3a6ea5" />
      </svg>
      <div style={{ position: 'absolute', left: 27, top: 11, font: '12.5px "Liberation Sans", sans-serif', color: '#555', lineHeight: '16px' }}>XAUUSD,H1</div>
      <WindowButton left={1325} mark={<div style={abs(9, 8, 10, 3, '#eef3f8')} />} />
      <WindowButton left={1358} mark={<div style={{ ...abs(9, 3, 9, 7, '#eef3f8'), boxSizing: 'border-box', border: '2px solid #555' }} />} />
      <WindowButton left={1391} mark={<div style={{ position: 'absolute', left: 8, top: -3, font: 'bold 15px "Liberation Sans", sans-serif', color: '#667', lineHeight: '18px' }}>✕</div>} />

      <div style={{ position: 'absolute', left: 9, top: 34, width: 1368, height: 758, boxSizing: 'border-box', border: '1px solid #000', background: '#fff' }} />
      <div style={{ position: 'absolute', left: 9, top: 793, width: 1368, height: 151, boxSizing: 'border-box', border: '1px solid #000', background: '#fff' }} />

      <PriceChart />
      <MacdChart />

      <div style={{ position: 'absolute', left: 13, top: 41, width: 0, height: 0, borderLeft: '4px solid transparent', borderRight: '4px solid transparent', borderTop: '4px solid #000' }} />
      <div style={{ position: 'absolute', left: 1233, top: 35, width: 0, height: 0, borderLeft: '5px solid transparent', borderRight: '5px solid transparent', borderTop: '5px solid #c0c0c0' }} />
      <div style={{ ...labelStyle, left: 25, top: 37 }}>XAUUSD,H1  1805.20 1805.90 1803.88 1805.09</div>
      <div style={{ ...labelStyle, left: 14, top: 796 }}>MACD(12,26,9) 3.011 3.755</div>
      <div style={{ position: 'absolute', left: 541, top: 56, font: '29.5px "Noto Sans CJK SC", sans-serif', color: '#f2353f', lineHeight: '42px', whiteSpace: 'nowrap' }}>2021.10.26黄金技术分析</div>

      {smudges.map(([l, t, w, h, c], i) => <div key={i} style={abs(l, t, w, h, c)} />)}

      <svg width="34" height="38" style={{ position: 'absolute', left: 1208, top: 900 }}>
        <path d="M4 30 C2 18 10 8 22 5 C30 3 32 10 28 16 C24 24 14 30 8 36" fill="none" stroke="#fff" strokeWidth="3" />
        <path d="M5 31 C3 19 11 9 23 6 C31 4 33 11 29 17 C25 25 15 31 9 37" fill="none" stroke="#777" strokeWidth="1" />
        <path d="M6 16 L26 18" fill="none" stroke="#777" strokeWidth="1" />
      </svg>
      <div style={{
        position: 'absolute', left: 1244, top: 894, font: '34.5px "Noto Sans CJK SC", sans-serif', lineHeight: '46px',
        color: '#fff', whiteSpace: 'nowrap', textShadow: '1px 1px 1px #555, -1px 0 0 #aaa, 0 -1px 0 #bbb',
      }}>@雪刀浪子</div>
    </div>
  );
}
